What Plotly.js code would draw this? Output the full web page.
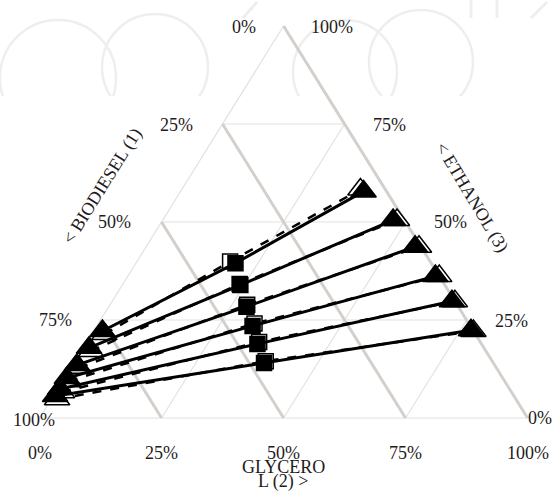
<!DOCTYPE html>
<html>
<head>
<meta charset="utf-8">
<script src="https://cdn.plot.ly/plotly-3.0.1.min.js"></script>
<style>
  html, body { margin: 0; padding: 0; background: #ffffff; }
  #chart { width: 553px; height: 493px; }
</style>
</head>
<body>
<div id="chart"></div>
<script>
// Ternary liquid–liquid equilibrium: biodiesel (1) / glycerol (2) / ethanol (3), mass fractions.
// Each tie line: biodiesel-rich phase -> overall mixture -> glycerol-rich phase.

const tickVals = [0, 0.25, 0.5, 0.75, 1];
const tickLabels = ['0%', '25%', '50%', '75%', '100%'];

// Experimental tie lines
const expOilBio = [0.760, 0.809, 0.856, 0.893, 0.921, 0.940];
const expOilGly = [0.018, 0.012, 0.009, 0.005, 0.005, 0.004];
const expOilEth = [0.222, 0.179, 0.135, 0.102, 0.074, 0.056];

const expFeedBio = [0.401, 0.419, 0.434, 0.446, 0.459, 0.470];
const expFeedGly = [0.204, 0.242, 0.282, 0.319, 0.352, 0.390];
const expFeedEth = [0.395, 0.339, 0.284, 0.235, 0.189, 0.140];

const expGlyBio = [0.047, 0.023, 0.012, 0.008, 0.006, 0.004];
const expGlyGly = [0.375, 0.472, 0.551, 0.630, 0.696, 0.772];
const expGlyEth = [0.578, 0.505, 0.437, 0.362, 0.298, 0.224];

// Calculated tie lines
const calOilBio = [0.760, 0.809, 0.855, 0.893, 0.921, 0.940];
const calOilGly = [0.026, 0.020, 0.017, 0.013, 0.013, 0.012];
const calOilEth = [0.214, 0.171, 0.128, 0.094, 0.066, 0.048];

const calFeedBio = [0.410, 0.419, 0.430, 0.439, 0.453, 0.464];
const calFeedGly = [0.191, 0.239, 0.281, 0.320, 0.353, 0.391];
const calFeedEth = [0.399, 0.342, 0.289, 0.241, 0.194, 0.145];

const calGlyBio = [0.051, 0.015, 0.004, 0.000, 0.000, 0.000];
const calGlyGly = [0.366, 0.480, 0.559, 0.638, 0.702, 0.778];
const calGlyEth = [0.583, 0.505, 0.437, 0.362, 0.298, 0.222];

// Composition -> plane: glycerol corner at (1,0), ethanol apex at (0.5,1), biodiesel at (0,0)
function toXY(b, g, e) {
  const s = b + g + e;
  return [(g + e / 2) / s, e / s];
}

const traces = [];

function segment(p, q, color, width) {
  const a = toXY(p[0], p[1], p[2]);
  const c = toXY(q[0], q[1], q[2]);
  traces.push({
    type: 'scatter', mode: 'lines', x: [a[0], c[0]], y: [a[1], c[1]],
    line: { color: color, width: width }, hoverinfo: 'skip', showlegend: false
  });
}

const thinGrid = '#e2e2e2';
const thickGrid = '#d4cfca';

// constant ethanol (horizontal) and constant glycerol lines: thin
tickVals.forEach(function (t) {
  if (t > 0 && t < 1) {
    segment([1 - t, 0, t], [0, 1 - t, t], thinGrid, 1.2);
    segment([1 - t, t, 0], [0, t, 1 - t], thinGrid, 1.2);
  }
});
// left edge and base: thin
segment([1, 0, 0], [0, 0, 1], thinGrid, 1.2);
segment([1, 0, 0], [0, 1, 0], thinGrid, 1.2);
// constant biodiesel lines and the right edge: thick
tickVals.forEach(function (t) {
  if (t < 1) segment([t, 0, 1 - t], [t, 1 - t, 0], thickGrid, 3);
});

function tieTrace(oB, oG, oE, fB, fG, fE, gB, gG, gE, opts) {
  const x = [], y = [], sym = [];
  for (let i = 0; i < oB.length; i++) {
    const p1 = toXY(oB[i], oG[i], oE[i]);
    const p2 = toXY(fB[i], fG[i], fE[i]);
    const p3 = toXY(gB[i], gG[i], gE[i]);
    x.push(p1[0], p2[0], p3[0], null);
    y.push(p1[1], p2[1], p3[1], null);
    sym.push('triangle-up', 'square', 'triangle-up', 'square');
  }
  const size = [];
  for (let i = 0; i < sym.length; i++) size.push(sym[i] === 'square' ? opts.sq : opts.tri);
  return {
    type: 'scatter', mode: 'lines+markers', x: x, y: y, connectgaps: false,
    line: { color: '#000000', width: opts.lw, dash: opts.dash },
    marker: { symbol: sym, size: size, color: opts.fill, opacity: 1,
      line: { color: '#000000', width: 1.5 } },
    opacity: 1,
    hoverinfo: 'skip', showlegend: false, cliponaxis: false
  };
}

traces.push(tieTrace(calOilBio, calOilGly, calOilEth, calFeedBio, calFeedGly, calFeedEth,
  calGlyBio, calGlyGly, calGlyEth, { fill: '#ffffff', lw: 2.5, dash: 'dash', tri: 22, sq: 15 }));
traces.push(tieTrace(expOilBio, expOilGly, expOilEth, expFeedBio, expFeedGly, expFeedEth,
  expGlyBio, expGlyGly, expGlyEth, { fill: '#000000', lw: 3, dash: 'solid', tri: 22, sq: 15 }));

// Percent labels along the three sides
const txtFont = { family: 'Liberation Serif, Times New Roman, serif', size: 18, color: '#1e1b1c' };
const annotations = [];
const leftShift = [[-40, -1], [-46, -1], [-47, 0], [-45, 0], [-6, -2]];
const rightShift = [[12, 0], [45, -1], [45, 0], [45, -1], [48, -1]];
tickVals.forEach(function (t, i) {
  // biodiesel along the left side
  annotations.push({ x: (1 - t) / 2, y: 1 - t, xref: 'x', yref: 'y', text: tickLabels[i],
    showarrow: false, font: txtFont, xanchor: 'center', yanchor: 'middle',
    xshift: leftShift[i][0], yshift: leftShift[i][1] });
  // ethanol along the right side
  annotations.push({ x: 1 - t / 2, y: t, xref: 'x', yref: 'y', text: tickLabels[i],
    showarrow: false, font: txtFont, xanchor: 'center', yanchor: 'middle',
    xshift: rightShift[i][0], yshift: rightShift[i][1] });
  // glycerol along the base
  annotations.push({ x: t, y: 0, xref: 'x', yref: 'y', text: tickLabels[i],
    showarrow: false, font: txtFont, xanchor: 'center', yanchor: 'middle', yshift: -35 });
});

const titleFont = { family: 'Liberation Serif, Times New Roman, serif', size: 18, color: '#1e1b1c' };
function paperNote(px, py, text, angle) {
  annotations.push({ xref: 'paper', yref: 'paper', x: px / 553, y: 1 - py / 493, text: text,
    textangle: angle, showarrow: false, font: titleFont, xanchor: 'center', yanchor: 'middle' });
}
paperNote(102, 186, '< BIODIESEL (1)', -58);
paperNote(472, 197, '< ETHANOL (3)', 59);
paperNote(283, 467, 'GLYCERO', 0);
paperNote(283, 481, 'L (2) >', 0);

// faint background emblem along the top edge
const wm = '#eeeeee';
function px2paper(x, y) { return [x / 553, 1 - y / 493]; }
const shapes = [];
[[58, 78, 58], [155, 67, 53], [345, 72, 52], [421, 62, 52]].forEach(function (c) {
  const a = px2paper(c[0] - c[2], c[1] - c[2]);
  const b = px2paper(c[0] + c[2], c[1] + c[2]);
  shapes.push({ type: 'circle', xref: 'paper', yref: 'paper', x0: a[0], y0: a[1], x1: b[0], y1: b[1],
    line: { color: wm, width: 2.5 }, layer: 'below' });
});
[[243, 18, 257, 2], [531, 18, 547, 2], [471, 0, 471, 18], [497, 0, 497, 18]].forEach(function (l) {
  const a = px2paper(l[0], l[1]);
  const b = px2paper(l[2], l[3]);
  shapes.push({ type: 'line', xref: 'paper', yref: 'paper', x0: a[0], y0: a[1], x1: b[0], y1: b[1],
    line: { color: wm, width: 3 }, layer: 'below' });
});
// the emblem fades out below the header strip
(function () {
  const a = px2paper(0, 96);
  const b = px2paper(553, 493);
  shapes.push({ type: 'rect', xref: 'paper', yref: 'paper', x0: a[0], y0: a[1], x1: b[0], y1: b[1],
    line: { width: 0 }, fillcolor: '#ffffff', layer: 'below' });
})();

const hidden = { visible: false, showgrid: false, zeroline: false, fixedrange: true };
const layout = {
  width: 553, height: 493, autosize: false,
  margin: { l: 0, r: 0, t: 0, b: 0 },
  paper_bgcolor: '#ffffff', plot_bgcolor: 'rgba(0,0,0,0)',
  xaxis: Object.assign({ range: [-0.08093, 1.05204] }, hidden),
  yaxis: Object.assign({ range: [-0.19133, 1.06633] }, hidden),
  showlegend: false, hovermode: false,
  shapes: shapes,
  annotations: annotations
};

Plotly.newPlot('chart', traces, layout, { displayModeBar: false, staticPlot: true });
</script>
</body>
</html>
